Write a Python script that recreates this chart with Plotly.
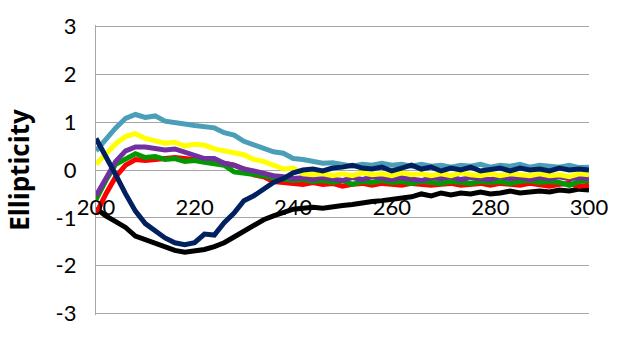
import plotly.graph_objects as go

# Wavelength grid (nm) and ellipticity of each sample
wavelength = list(range(200, 301, 2))

teal = [0.40, 0.65, 0.88, 1.08, 1.16, 1.10, 1.13, 1.02, 0.98, 0.96, 0.93, 0.90, 0.88, 0.78, 0.73, 0.60,
        0.52, 0.45, 0.38, 0.35, 0.24, 0.22, 0.18, 0.14, 0.15, 0.12, 0.08, 0.12, 0.10, 0.14, 0.10, 0.12,
        0.08, 0.12, 0.08, 0.10, 0.06, 0.10, 0.08, 0.12, 0.06, 0.10, 0.08, 0.12, 0.06, 0.10, 0.08, 0.06,
        0.10, 0.05, 0.06]
yellow = [0.12, 0.35, 0.55, 0.70, 0.76, 0.66, 0.62, 0.56, 0.58, 0.50, 0.54, 0.52, 0.44, 0.40, 0.36, 0.32,
          0.22, 0.18, 0.10, 0.02, 0.04, -0.08, -0.10, -0.08, -0.12, -0.08, -0.12, -0.06, -0.10, -0.08, -0.12, -0.06,
          -0.10, -0.08, -0.12, -0.08, -0.12, -0.06, -0.10, -0.12, -0.08, -0.12, -0.08, -0.10, -0.12, -0.08, -0.12, -0.10,
          -0.14, -0.08, -0.10]
purple = [-0.54, -0.20, 0.18, 0.40, 0.48, 0.48, 0.45, 0.42, 0.44, 0.38, 0.32, 0.24, 0.24, 0.14, 0.10, 0.02,
          -0.02, -0.08, -0.12, -0.14, -0.18, -0.16, -0.20, -0.16, -0.18, -0.22, -0.16, -0.20, -0.14, -0.18, -0.20, -0.16,
          -0.18, -0.22, -0.16, -0.18, -0.14, -0.20, -0.16, -0.18, -0.20, -0.14, -0.18, -0.16, -0.20, -0.16, -0.18, -0.14,
          -0.18, -0.16, -0.18]
green = [-0.62, -0.22, 0.12, 0.24, 0.34, 0.26, 0.28, 0.22, 0.24, 0.18, 0.20, 0.16, 0.14, 0.10, -0.04, -0.06,
         -0.10, -0.12, -0.16, -0.20, -0.22, -0.20, -0.24, -0.22, -0.26, -0.22, -0.30, -0.24, -0.26, -0.22, -0.26, -0.24,
         -0.28, -0.24, -0.26, -0.28, -0.24, -0.26, -0.28, -0.24, -0.26, -0.24, -0.28, -0.24, -0.22, -0.26, -0.24, -0.26,
         -0.32, -0.24, -0.22]
red = [-0.92, -0.50, -0.14, 0.10, 0.22, 0.20, 0.22, 0.24, 0.26, 0.24, 0.22, 0.22, 0.18, 0.14, 0.10, 0.02,
       -0.10, -0.14, -0.24, -0.26, -0.28, -0.30, -0.26, -0.30, -0.28, -0.34, -0.30, -0.28, -0.32, -0.28, -0.30, -0.32,
       -0.28, -0.30, -0.32, -0.30, -0.28, -0.32, -0.30, -0.28, -0.32, -0.28, -0.30, -0.32, -0.28, -0.30, -0.34, -0.30,
       -0.28, -0.34, -0.32]
navy = [0.66, 0.30, -0.10, -0.50, -0.86, -1.12, -1.28, -1.42, -1.52, -1.56, -1.52, -1.34, -1.36, -1.10, -0.90, -0.64,
        -0.54, -0.40, -0.26, -0.18, -0.06, 0.00, 0.02, -0.02, 0.04, 0.06, 0.10, 0.04, 0.02, 0.06, -0.02, 0.04,
        0.10, 0.02, 0.06, -0.02, 0.04, 0.00, 0.06, -0.02, 0.02, 0.04, -0.02, 0.04, 0.00, 0.02, -0.02, 0.04,
        0.00, 0.02, 0.00]
black = [-0.80, -0.96, -1.08, -1.20, -1.38, -1.46, -1.54, -1.62, -1.68, -1.72, -1.70, -1.66, -1.60, -1.52, -1.40, -1.28,
         -1.14, -1.04, -0.96, -0.90, -0.82, -0.80, -0.78, -0.80, -0.76, -0.74, -0.72, -0.68, -0.66, -0.64, -0.62, -0.58,
         -0.56, -0.50, -0.54, -0.48, -0.52, -0.48, -0.50, -0.46, -0.50, -0.48, -0.44, -0.48, -0.46, -0.44, -0.46, -0.42,
         -0.44, -0.40, -0.42]

x_ticks = [200, 220, 240, 260, 280, 300]
y_ticks = [-3, -2, -1, 0, 1, 2, 3]
y_labels = ["-3", "-2", "-1", "0", "1", "2", "3"]

series = [
    ("black", black, "#000000"),
    ("red", red, "#FF0000"),
    ("green", green, "#009A00"),
    ("purple", purple, "#7030A0"),
    ("yellow", yellow, "#FFFF00"),
    ("teal", teal, "#4A9EB8"),
    ("navy", navy, "#002060"),
]

fig = go.Figure()
for name, vals, color in series:
    fig.add_trace(go.Scatter(x=wavelength, y=vals, mode="lines", name=name,
                             line=dict(color=color, width=5)))

font_family = "Lato, 'Open Sans', sans-serif"
fig.update_layout(
    width=620, height=338,
    margin=dict(l=96, r=22, t=23, b=15),
    paper_bgcolor="white", plot_bgcolor="white",
    showlegend=False,
    font=dict(family=font_family, color="black"),
    xaxis=dict(range=[200, 300], tickvals=x_ticks, showgrid=False, zeroline=False,
               showline=False, anchor="free", position=0.5,
               ticks="outside", ticklen=18, tickcolor="rgba(0,0,0,0)",
               tickfont=dict(size=22, color="black")),
    yaxis=dict(range=[-3.03, 3.03], tickvals=y_ticks, ticktext=y_labels,
               showgrid=True, gridcolor="#A6A6A6", gridwidth=1.3,
               zeroline=False, showline=True, linecolor="#A6A6A6", linewidth=1.3,
               ticks="outside", ticklen=14, tickcolor="rgba(0,0,0,0)",
               tickfont=dict(size=22, color="black"),
               title=dict(text="<b>Ellipticity</b>",
                          font=dict(family="'Open Sans', sans-serif", size=26, color="black",
                                    weight="bold"),
                          standoff=18)),
)

fig.write_html("out.html")
